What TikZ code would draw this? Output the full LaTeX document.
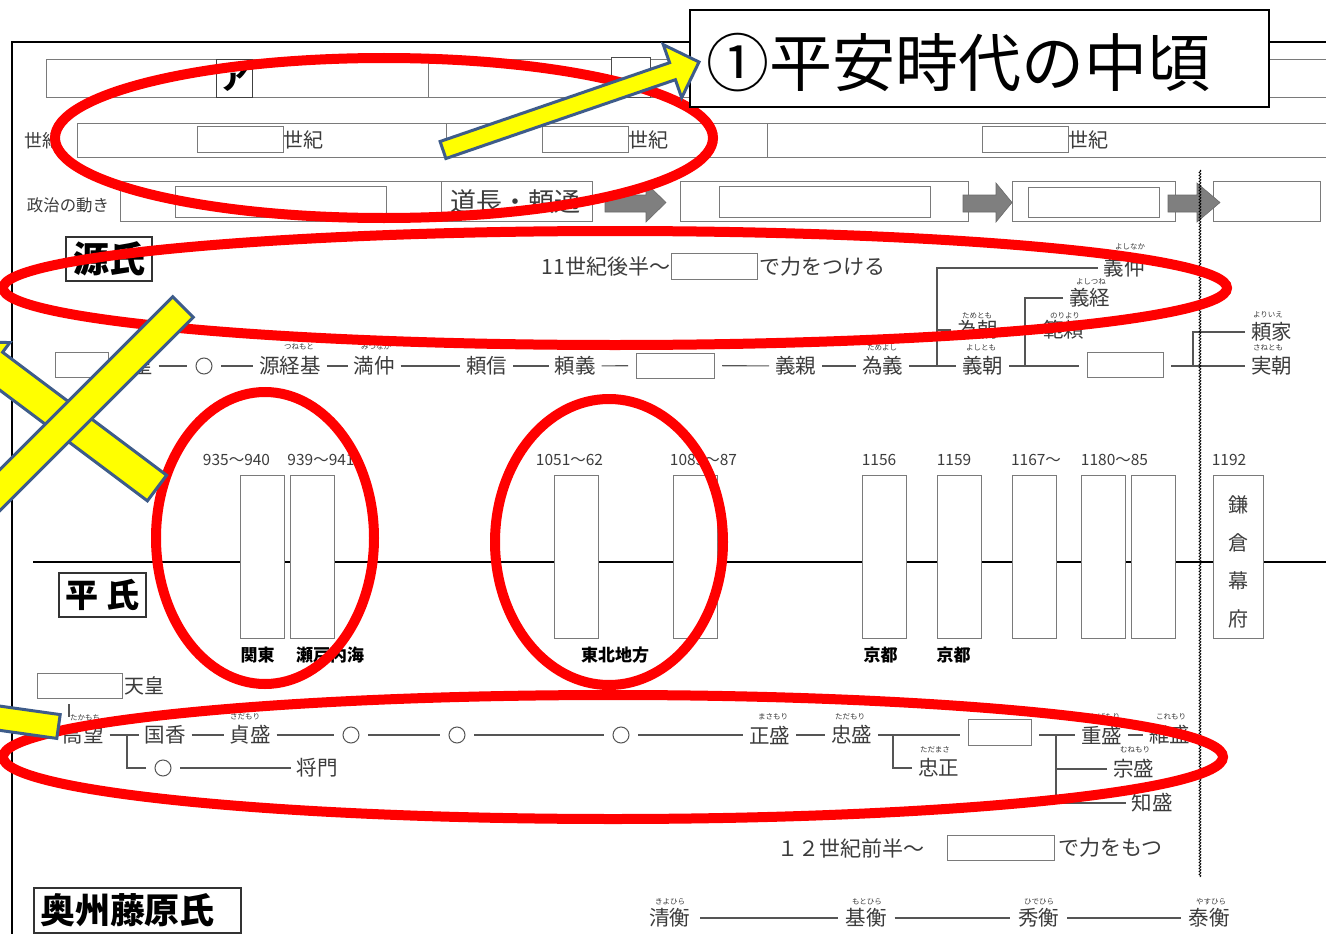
\documentclass[tikz,border=0pt]{standalone}
\usepackage{fontspec}
\setmainfont{Noto Sans CJK JP}
\usetikzlibrary{decorations.pathmorphing}
\newcommand{\jfs}[1]{\fontsize{#1}{#1}\selectfont}
\newcommand{\grayarrow}[3]{\filldraw[fill=arrc, draw=arrd, line width=0.6pt] (#1,195) -- (#2,195) -- (#2,183) -- (#3,202.5) -- (#2,222) -- (#2,212) -- (#1,212) -- cycle;}
\definecolor{txtc}{HTML}{3C3C3C}
\definecolor{boxc}{HTML}{7A7A7A}
\definecolor{linec}{HTML}{555555}
\definecolor{redc}{HTML}{FF0000}
\definecolor{yelc}{HTML}{FFFF00}
\definecolor{bluec}{HTML}{3E5C8A}
\definecolor{arrc}{HTML}{7F7F7F}
\definecolor{arrd}{HTML}{6A6A6A}
\tikzset{
  every node/.style={text=txtc},
  nm/.style={font=\jfs{20.5}, inner sep=0pt, outer xsep=6pt, outer ysep=0pt},
  tx/.style={font=\jfs{21}, inner sep=0pt, outer sep=0pt},
  rb/.style={font=\jfs{7.5}, inner sep=0pt},
  yr/.style={font=\jfs{15.5}, inner sep=0pt},
  bl/.style={font=\bfseries\jfs{17}, text=black, inner sep=0pt},
  abox/.style={draw=boxc, line width=1pt, fill=white, inner sep=0pt, outer sep=0pt},
  tbox/.style={abox, minimum width=44pt, minimum height=163pt},
  tl/.style={draw=linec, line width=1.1pt},
  circ/.style={circle, draw=linec, line width=1pt, minimum size=16pt, inner sep=0pt, outer sep=9pt},
  clan/.style={draw=black!80, line width=1.3pt, inner sep=0pt, text=black},
  redell/.style={draw=redc, line width=10pt},
  yel/.style={fill=yelc, draw=bluec, line width=3pt, line join=miter}
}
\begin{document}
\begin{tikzpicture}[x=1pt,y=-1pt]
\useasboundingbox (0,0) rectangle (1326,934);
\fill[white] (0,0) rectangle (1326,934);

% outer frame
\draw[line width=2pt] (12,945) -- (12,42) -- (1345,42);

% row 1
\draw[abox] (46,60) rectangle (1345,98);
\draw[abox] (428,60) -- (428,98);
\node[abox, draw=black!75, minimum width=36pt, minimum height=38pt, font=\bfseries\jfs{30}, text=black] (aBox) at (234,79) {ア};
\node[abox, draw=black!70, minimum width=39pt, minimum height=40pt] (smallBox) at (630.5,78) {};

% row 2
\node[tx, font=\jfs{18}] (seikiLbl) at (42,141) {世紀};
\draw[abox] (77,123) rectangle (1345,157);
\draw[abox] (446,123) -- (446,157);
\draw[abox] (767,123) -- (767,157);
\node[abox, minimum width=86pt, minimum height=26pt] (sb1) at (240,139.5) {};
\node[tx, font=\jfs{20}, anchor=west] (sk1) at (sb1.east) {世紀};
\node[abox, minimum width=86pt, minimum height=26pt] (sb2) at (585.5,139.5) {};
\node[tx, font=\jfs{20}, anchor=west] (sk2) at (sb2.east) {世紀};
\node[abox, minimum width=86pt, minimum height=26pt] (sb3) at (1025,139.5) {};
\node[tx, font=\jfs{20}, anchor=west] (sk3) at (sb3.east) {世紀};

% row 3
\node[tx, font=\jfs{16.4}] (seiji) at (68,205) {政治の動き};
\node[abox, minimum width=472pt, minimum height=40pt] (pb1) at (356,201) {};
\draw[abox] (441,181) -- (441,221);
\node[abox, minimum width=211pt, minimum height=31pt] (pi1) at (280.5,201.5) {};
\node[tx, font=\jfs{26}] (michi) at (515.5,202) {道長・頼通};
\node[abox, minimum width=288pt, minimum height=40pt] (pb2) at (824,201) {};
\node[abox, minimum width=211pt, minimum height=31pt] (pi2) at (824.5,201.5) {};
\node[abox, minimum width=163pt, minimum height=40pt] (pb3) at (1093.5,201) {};
\node[abox, minimum width=131pt, minimum height=30pt] (pi3) at (1093.5,202) {};
\node[abox, minimum width=107pt, minimum height=40pt] (pb4) at (1266.5,201) {};
\grayarrow{605}{646}{666}
\grayarrow{963}{996}{1012}
\grayarrow{1168}{1197}{1220}

% Minamoto
\node[clan, minimum width=86pt, minimum height=44pt, font=\bfseries\jfs{36}] (genji) at (109,259) {源氏};
\node[tx, anchor=east] (g11) at (670,267) {11世紀後半〜};
\node[abox, minimum width=86pt, minimum height=26pt] (gbox) at (714,266) {};
\node[tx, anchor=west] (g11b) at (759,267) {で力をつける};

\node[abox, minimum width=53pt, minimum height=25pt] (mbA) at (82,365) {};
\node[nm] (m0) at (132,366) {天皇};
\node[circ] (mc1) at (204,366) {};
\node[nm] (m1) at (290,366) {源経基};
\node[nm] (m2) at (374,366) {満仲};
\node[nm] (m3) at (486.5,366) {頼信};
\node[nm] (m4) at (575,366) {頼義};
\node[abox, minimum width=78pt, minimum height=25pt, outer xsep=8pt] (mbB) at (675,365.5) {};
\node[nm] (m5) at (795.5,366) {義親};
\node[nm] (m6) at (882.5,366) {為義};
\node[nm] (m7) at (982.5,366) {義朝};
\node[abox, minimum width=76pt, minimum height=25pt, outer xsep=8pt] (mbC) at (1125,365) {};
\node[nm] (m8) at (1124,268) {義仲};
\node[nm] (m9) at (977.5,330) {為朝};
\node[nm] (m10) at (1089.5,298) {義経};
\node[nm] (m11) at (1063.5,330) {範頼};
\node[nm] (m12) at (1271.5,332) {頼家};
\node[nm] (m13) at (1271.5,366) {実朝};
\coordinate (jA) at (937,366);
\coordinate (jB) at (1025,366);
\coordinate (jC) at (1193,366);
\draw[tl] (m0) -- (mc1);
\draw[tl] (mc1) -- (m1);
\draw[tl] (m1) -- (m2);
\draw[tl] (m2) -- (m3);
\draw[tl] (m3) -- (m4);
\draw[tl] (m4) -- (mbB);
\draw[tl] (mbB) -- (m5);
\draw[tl] (m5) -- (m6);
\draw[tl] (m6) -- (m7);
\draw[tl] (m8.west) -| (jA);
\draw[tl] (m9.west) -- (m9.west -| jA);
\draw[tl] (m7.east) -- (m7.east -| mbC.west);
\draw[tl] (m10.west) -| (jB);
\draw[tl] (m11.west) -- (m11.west -| jB);
\draw[tl] (mbC.east |- m13.west) -- (m13.west);
\draw[tl] (m12.west) -| (jC);
\node[rb] (r1) at (299,347) {つねもと};
\node[rb] (r2) at (376,347) {みつなか};
\node[rb] (r3) at (882,348) {ためよし};
\node[rb] (r4) at (1130,247) {よしなか};
\node[rb] (r5) at (1091,282) {よしつね};
\node[rb] (r6) at (977,316) {ためとも};
\node[rb] (r7) at (1065,316) {のりより};
\node[rb] (r8) at (981,348) {よしとも};
\node[rb] (r9) at (1268,315) {よりいえ};
\node[rb] (r10) at (1268,348) {さねとも};

% timeline
\draw[line width=2pt] (33,562) -- (1345,562);
\node[tbox] (e1) at (262,556.5) {};
\node[tbox] (e2) at (312,556.5) {};
\node[tbox] (e3) at (576,556.5) {};
\node[tbox] (e4) at (695,556.5) {};
\node[tbox] (e5) at (884,556.5) {};
\node[tbox] (e6) at (959,556.5) {};
\node[tbox] (e7) at (1034,556.5) {};
\node[tbox] (e8) at (1103,556.5) {};
\node[tbox] (e9) at (1153,556.5) {};
\node[abox, minimum width=50pt, minimum height=163pt] (e10) at (1238,556.5) {};
\node[font=\fontsize{20}{38}\selectfont, align=center, inner sep=0pt] (kama) at (1238,561.5) {鎌\\倉\\幕\\府};
\node[yr] (y1) at (236.5,460) {935〜940};
\node[yr] (y2) at (321,460) {939〜941};
\node[yr] (y3) at (569.5,460) {1051〜62};
\node[yr] (y4) at (703.5,460) {1083〜87};
\node[yr] (y5) at (879,460) {1156};
\node[yr] (y6) at (954,460) {1159};
\node[yr] (y7) at (1036,460) {1167〜};
\node[yr] (y8) at (1114.5,460) {1180〜85};
\node[yr] (y9) at (1229,460) {1192};
\node[bl] (p1) at (257.5,655) {関東};
\node[bl] (p2) at (330,655) {瀬戸内海};
\node[bl] (p3) at (615,655) {東北地方};
\node[bl] (p4) at (880.5,655) {京都};
\node[bl] (p5) at (953.5,655) {京都};

% Taira
\node[clan, minimum width=87pt, minimum height=44pt, font=\bfseries\jfs{33}] (heishi) at (102.5,595) {平\kern9pt 氏};
\node[abox, minimum width=85pt, minimum height=25pt] (tbA) at (80,685.5) {};
\node[tx, font=\jfs{20}, anchor=west] (t0) at (124,686) {天皇};
\coordinate (tS) at (69,717);
\draw[tl] ([yshift=-6pt]tbA.south -| tS) -- (tS);
\node[nm] (t1) at (83,735) {高望};
\node[nm] (t2) at (165,735) {国香};
\node[nm] (t3) at (250,735) {貞盛};
\node[circ] (tc1) at (351,735) {};
\node[circ] (tc2) at (457,735) {};
\node[circ] (tc3) at (621,735) {};
\node[nm] (t4) at (769.5,735) {正盛};
\node[nm] (t5) at (851.5,735) {忠盛};
\node[abox, minimum width=63pt, minimum height=26pt, outer xsep=8pt] (tbB) at (999.5,732) {};
\node[nm] (t6) at (1101.5,735) {重盛};
\node[nm] (t7) at (1169.5,735) {維盛};
\node[nm] (t8) at (938.5,768) {忠正};
\node[nm] (t9) at (1133.5,769) {宗盛};
\node[nm] (t10) at (1152,803) {知盛};
\node[circ] (tc4) at (163,768) {};
\node[nm] (t11) at (317,768) {将門};
\coordinate (jD) at (127,735);
\coordinate (jE) at (893,735);
\coordinate (jF) at (1056,735);
\draw[tl] (t1) -- (t2);
\draw[tl] (tc4.west) -| (jD);
\draw[tl] (tc4) -- (t11);
\draw[tl] (t2) -- (t3);
\draw[tl] (t3) -- (tc1);
\draw[tl] (tc1) -- (tc2);
\draw[tl] (tc2) -- (tc3);
\draw[tl] (tc3) -- (t4);
\draw[tl] (t4) -- (t5);
\draw[tl] (t5.east) -- (t5.east -| tbB.west);
\draw[tl] (t8.west) -| (jE);
\draw[tl] (tbB.east |- t6.west) -- (t6.west);
\draw[tl] (t9.west) -| (jF);
\draw[tl] (t10.west) -| (jF);
\draw[tl] (t6) -- (t7);
\node[rb] (s1) at (85,718) {たかもち};
\node[rb] (s2) at (245,717) {さだもり};
\node[rb] (s3) at (773,717) {まさもり};
\node[rb] (s4) at (850,717) {ただもり};
\node[rb] (s5) at (935,750) {ただまさ};
\node[rb] (s6) at (1105,717) {しげもり};
\node[rb] (s7) at (1171,717) {これもり};
\node[rb] (s8) at (1135,750) {むねもり};
\node[tx, anchor=east] (h12) at (924,848) {１２世紀前半〜};
\node[abox, minimum width=107pt, minimum height=25pt] (hbox) at (1000.5,847.5) {};
\node[tx, anchor=west] (h12b) at (1058,848) {で力をもつ};

% Oshu Fujiwara
\node[clan, minimum width=207pt, minimum height=45pt, font=\bfseries\jfs{35}, text width=195pt] (oshu) at (137.5,910.5) {奥州藤原氏};
\node[nm, outer xsep=10pt] (f1) at (669.5,918) {清衡};
\node[nm, outer xsep=8pt] (f2) at (866,918) {基衡};
\node[nm, outer xsep=8pt] (f3) at (1038.5,918) {秀衡};
\node[nm, outer xsep=8pt] (f4) at (1209,918) {泰衡};
\draw[tl] (f1) -- (f2);
\draw[tl] (f2) -- (f3);
\draw[tl] (f3) -- (f4);
\node[rb] (u1) at (670,902) {きよひら};
\node[rb] (u2) at (867,902) {もとひら};
\node[rb] (u3) at (1039,902) {ひでひら};
\node[rb] (u4) at (1211,902) {やすひら};

% wavy divider
\draw[line width=0.8pt, decorate, decoration={snake, amplitude=0.9pt, segment length=3pt}] (1200,170) -- (1200,877);

% red ellipses
\draw[redell] (384,138) ellipse [x radius=329pt, y radius=80pt];
\draw[redell] (615,288) ellipse [x radius=612pt, y radius=57pt];
\draw[redell] (265,538) ellipse [x radius=109pt, y radius=146pt];
\draw[redell] (609,542) ellipse [x radius=114pt, y radius=143pt];
\draw[redell] (613,757) ellipse [x radius=610pt, y radius=62pt];

% callout
\node[draw=black, line width=2pt, fill=white, minimum width=579pt, minimum height=97pt, inner sep=0pt] (call) at (979.5,58.5) {};
\node[font=\jfs{63}, text=black, anchor=west, inner sep=0pt] (calltxt) at (706,63) {①平安時代の中頃};

% yellow marks
\draw[yel] (440.1,141.5) -- (669.6,62.7) -- (663.3,44.7) -- (699,62) -- (681.7,97.7) -- (675.4,79.7) -- (445.9,158.5) -- cycle;
\draw[yel] (166.6,475.2) -- (2.6,352.2) -- (9.8,342.6) -- (-39,341) -- (-23.8,387.4) -- (-16.6,377.8) -- (147.4,500.8) -- cycle;
\draw[yel] (172.7,296.7) -- (193.3,317.3) -- (-32.7,543.3) -- (-53.3,522.7) -- cycle;
\draw[yel] (60.2,714.6) -- (56.8,738.4) -- (-61.7,721.7) -- (-58.3,697.9) -- cycle;
\end{tikzpicture}
\end{document}
